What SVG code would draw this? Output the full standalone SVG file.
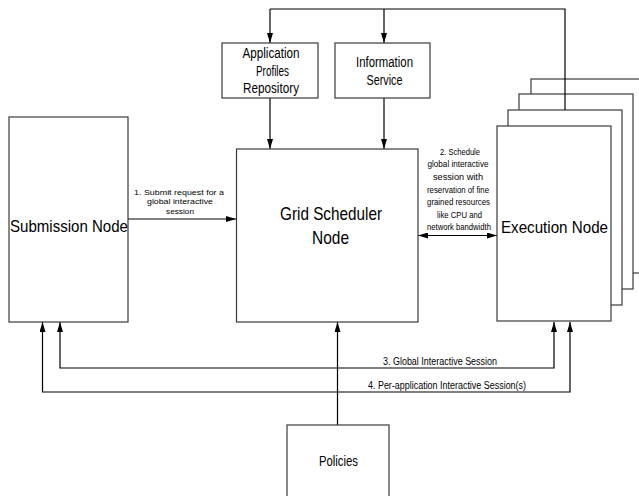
<svg xmlns="http://www.w3.org/2000/svg" width="639" height="496" viewBox="0 0 639 496">
<style>
.box{fill:#fff;stroke:#3a3a3a;stroke-width:1.2}
.con{fill:none;stroke:#000;stroke-width:1.2}
text{font-family:"Liberation Sans",Arial,sans-serif;fill:#000;text-anchor:middle}
.big{font-size:19px}
.mid{font-size:14px}
.sm{font-size:10px}
.s1{font-size:8px}
.xs{font-size:9px}
</style>
<defs>
<marker id="ah" viewBox="0 0 10 6" refX="10" refY="3" markerWidth="10" markerHeight="6" markerUnits="userSpaceOnUse" orient="auto">
<path d="M0,0 L10,3 L0,6 z" fill="#000"/>
</marker>
<marker id="as" viewBox="0 0 10 6" refX="0" refY="3" markerWidth="10" markerHeight="6" markerUnits="userSpaceOnUse" orient="auto">
<path d="M10,0 L0,3 L10,6 z" fill="#000"/>
</marker>
</defs>
<rect width="639" height="496" fill="#fff"/>

<g id="execution-node-stack">
<rect class="box" x="531" y="79" width="130" height="194"/>
<rect class="box" x="519" y="94" width="114" height="195"/>
<rect class="box" x="508" y="110" width="114" height="195"/>
</g>

<g id="connectors">
<polyline class="con" points="270,9 565,9 565,110"/>
<line class="con" x1="270" y1="9" x2="270" y2="43" marker-end="url(#ah)"/>
<line class="con" x1="384" y1="9" x2="384" y2="43" marker-end="url(#ah)"/>
<line class="con" x1="270" y1="98" x2="270" y2="149" marker-end="url(#ah)"/>
<line class="con" x1="384" y1="98" x2="384" y2="149" marker-end="url(#ah)"/>
<line class="con" x1="128" y1="219" x2="236" y2="219" marker-end="url(#ah)"/>
<line class="con" x1="418" y1="235.5" x2="497" y2="235.5" marker-start="url(#as)" marker-end="url(#ah)"/>
<polyline class="con" points="554,322 554,368 60,368 60,322" marker-start="url(#as)" marker-end="url(#ah)"/>
<polyline class="con" points="570,322 570,392 42.5,392 42.5,322" marker-start="url(#as)" marker-end="url(#ah)"/>
<line class="con" x1="337.5" y1="425" x2="337.5" y2="322" marker-end="url(#ah)"/>
<text class="s1" x="179" y="194.5" textLength="90" lengthAdjust="spacingAndGlyphs">1. Submit request for a</text>
<text class="s1" x="180" y="204" textLength="66" lengthAdjust="spacingAndGlyphs">global interactive</text>
<text class="s1" x="180" y="213.5" textLength="28" lengthAdjust="spacingAndGlyphs">session</text>
<text class="xs" x="460" y="154.5" textLength="40" lengthAdjust="spacingAndGlyphs">2. Schedule</text>
<text class="xs" x="458" y="167" textLength="61" lengthAdjust="spacingAndGlyphs">global interactive</text>
<text class="xs" x="458" y="180" textLength="50" lengthAdjust="spacingAndGlyphs">session with</text>
<text class="xs" x="458" y="192.5" textLength="62" lengthAdjust="spacingAndGlyphs">reservation of fine</text>
<text class="xs" x="458.5" y="205" textLength="63" lengthAdjust="spacingAndGlyphs">grained resources</text>
<text class="xs" x="459.5" y="217.5" textLength="45" lengthAdjust="spacingAndGlyphs">like CPU and</text>
<text class="xs" x="459" y="230" textLength="64" lengthAdjust="spacingAndGlyphs">network bandwidth</text>
<text class="sm" x="440" y="365" textLength="114" lengthAdjust="spacingAndGlyphs">3. Global Interactive Session</text>
<text class="sm" x="447" y="389" textLength="158" lengthAdjust="spacingAndGlyphs">4. Per-application Interactive Session(s)</text>
</g>

<g id="execution-node">
<rect class="box" x="497" y="126" width="114" height="195"/>
<text class="big" x="554.5" y="233" textLength="107" lengthAdjust="spacingAndGlyphs" style="font-size:17px">Execution Node</text>
</g>

<g id="submission-node">
<rect class="box" x="9" y="117" width="119" height="205"/>
<text class="big" x="69" y="232" textLength="118" lengthAdjust="spacingAndGlyphs" style="font-size:17px">Submission Node</text>
</g>

<g id="grid-scheduler-node">
<rect class="box" x="236.5" y="149" width="181.5" height="173"/>
<text class="big" x="331" y="220" textLength="102" lengthAdjust="spacingAndGlyphs">Grid Scheduler</text>
<text class="big" x="330.5" y="244" textLength="37" lengthAdjust="spacingAndGlyphs">Node</text>
</g>

<g id="application-profiles-repository">
<rect class="box" x="222" y="43" width="96" height="55"/>
<text class="mid" x="271" y="57.5" textLength="57" lengthAdjust="spacingAndGlyphs">Application</text>
<text class="mid" x="272.5" y="76" textLength="33" lengthAdjust="spacingAndGlyphs">Profiles</text>
<text class="mid" x="271" y="93" textLength="56" lengthAdjust="spacingAndGlyphs">Repository</text>
</g>

<g id="information-service">
<rect class="box" x="335" y="43" width="95" height="55"/>
<text class="mid" x="384.5" y="67" textLength="57" lengthAdjust="spacingAndGlyphs">Information</text>
<text class="mid" x="384.5" y="85" textLength="36" lengthAdjust="spacingAndGlyphs">Service</text>
</g>

<g id="policies">
<rect class="box" x="287" y="425" width="102" height="80"/>
<text class="mid" x="338.5" y="466" textLength="39" lengthAdjust="spacingAndGlyphs">Policies</text>
</g>
</svg>
